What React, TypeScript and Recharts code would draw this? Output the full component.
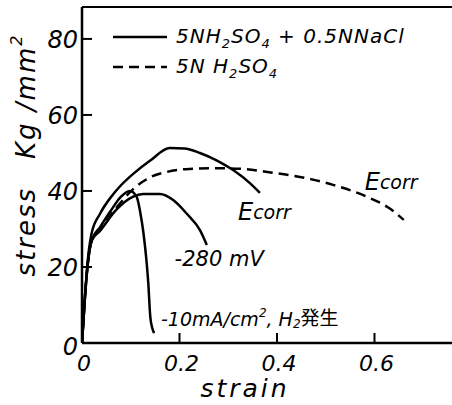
import React from 'react';
import { LineChart, Line, XAxis, YAxis, ReferenceLine, ReferenceDot } from 'recharts';

// strain / stress (kg/mm2)
const naclEcorr = [
  { x: 0, y: 0 }, { x: 0.006, y: 12 }, { x: 0.012, y: 22 }, { x: 0.02, y: 29 },
  { x: 0.037, y: 34 }, { x: 0.06, y: 38.5 }, { x: 0.08, y: 41.5 }, { x: 0.105, y: 44.5 },
  { x: 0.14, y: 48 }, { x: 0.18, y: 51.3 }, { x: 0.21, y: 51.2 }, { x: 0.242, y: 50 },
  { x: 0.277, y: 48 }, { x: 0.31, y: 45.5 }, { x: 0.345, y: 42 }, { x: 0.365, y: 39.5 },
];

const h2so4Ecorr = [
  { x: 0, y: 0 }, { x: 0.006, y: 12 }, { x: 0.012, y: 21 }, { x: 0.02, y: 27 },
  { x: 0.037, y: 30 }, { x: 0.07, y: 35.5 }, { x: 0.105, y: 40.5 }, { x: 0.14, y: 43.6 },
  { x: 0.174, y: 45 }, { x: 0.22, y: 45.8 }, { x: 0.277, y: 46 }, { x: 0.33, y: 45.8 },
  { x: 0.38, y: 45 }, { x: 0.447, y: 43.7 }, { x: 0.515, y: 41.6 }, { x: 0.584, y: 38.5 },
  { x: 0.63, y: 35.5 }, { x: 0.66, y: 32.4 },
];

const nacl280 = [
  { x: 0, y: 0 }, { x: 0.006, y: 12 }, { x: 0.012, y: 21 }, { x: 0.02, y: 27 },
  { x: 0.037, y: 29.5 }, { x: 0.07, y: 35 }, { x: 0.105, y: 38.5 }, { x: 0.125, y: 39.2 },
  { x: 0.16, y: 39.2 }, { x: 0.187, y: 37.6 }, { x: 0.215, y: 34 }, { x: 0.242, y: 29.7 },
  { x: 0.256, y: 25.8 },
];

const naclCathodic = [
  { x: 0, y: 0 }, { x: 0.006, y: 12 }, { x: 0.012, y: 21 }, { x: 0.02, y: 27 },
  { x: 0.037, y: 30.5 }, { x: 0.06, y: 35 }, { x: 0.08, y: 38.5 }, { x: 0.098, y: 40 },
  { x: 0.112, y: 38.5 }, { x: 0.12, y: 34 }, { x: 0.126, y: 29 }, { x: 0.132, y: 22 },
  { x: 0.136, y: 15.7 }, { x: 0.14, y: 7 }, { x: 0.144, y: 4 }, { x: 0.148, y: 2.6 },
];

const xTicks = [0, 0.2, 0.4, 0.6];
const yTicks = [0, 20, 40, 60, 80];
const xMax = 0.759;
const yMax = 88.4;

const font = '"DejaVu Sans", sans-serif';

function XTick({ x, y, payload }: any) {
  return (
    <g>
      <line x1={x} y1={y} x2={x} y2={y - 10} stroke="#000" strokeWidth={2} />
      <text x={x + 2} y={y + 28} textAnchor="middle" fontFamily={font} fontStyle="italic" fontSize={22}>
        {payload.value}
      </text>
    </g>
  );
}

function YTick({ x, y, payload }: any) {
  return (
    <g>
      <line x1={x} y1={y} x2={x + 10} y2={y} stroke="#000" strokeWidth={2} />
      <text x={x - 4} y={payload.value === 0 ? y + 12 : y + 9} textAnchor="end" fontFamily={font} fontStyle="italic" fontSize={24}>
        {payload.value}
      </text>
    </g>
  );
}

function note(parts: React.ReactNode) {
  return ({ cx, cy }: any) => (
    <text x={cx} y={cy} fontFamily={font} fontStyle="italic" fontSize={19} dominantBaseline="middle">
      {parts}
    </text>
  );
}

function XLabel({ viewBox }: any) {
  return (
    <text x={245} y={viewBox.y + 54} textAnchor="middle" fontFamily={font} fontStyle="italic" fontSize={25} letterSpacing={3}>
      strain
    </text>
  );
}

function YLabel({ viewBox }: any) {
  const x = viewBox.x + 27;
  const y = 155;
  return (
    <text x={x} y={y} transform={`rotate(-90 ${x} ${y})`} textAnchor="middle" dominantBaseline="middle"
      fontFamily={font} fontStyle="italic" fontSize={26} letterSpacing={2}>
      stress{'\u2003'}Kg /mm<tspan dy={-10} fontSize={16}>2</tspan>
    </text>
  );
}

function LegendRow({ dashed, children }: { dashed?: boolean; children: React.ReactNode }) {
  return (
    <div style={{ display: 'flex', alignItems: 'center', height: 30 }}>
      <svg width={66} height={10}>
        <line x1={3} y1={5} x2={57} y2={5} stroke="#000" strokeWidth={2.5} strokeDasharray={dashed ? '10 6' : undefined} />
      </svg>
      <span style={{ fontFamily: font, fontStyle: 'italic', fontSize: 20, letterSpacing: 1 }}>{children}</span>
    </div>
  );
}

export default function App() {
  return (
    <div style={{ position: 'relative', width: 452, height: 405, background: '#fff' }}>
      <style>{'body{margin:0}'}</style>
      <LineChart width={452} height={405} margin={{ top: 7, right: 0, bottom: 0, left: 0 }}>
        <XAxis
          type="number"
          dataKey="x"
          height={62}
          domain={[0, xMax]}
          ticks={xTicks}
          tick={<XTick />}
          tickSize={0}
          tickMargin={0}
          tickLine={false}
          axisLine={{ stroke: '#000', strokeWidth: 2.5 }}
          allowDataOverflow
          label={{ content: <XLabel /> }}
        />
        <YAxis
          type="number"
          dataKey="y"
          width={82}
          domain={[0, yMax]}
          ticks={yTicks}
          tick={<YTick />}
          tickSize={0}
          tickMargin={0}
          tickLine={false}
          axisLine={{ stroke: '#000', strokeWidth: 2.5 }}
          allowDataOverflow
          label={{ content: <YLabel /> }}
        />
        <ReferenceLine y={yMax} stroke="#000" strokeWidth={2} />
        <Line data={naclEcorr} dataKey="y" type="monotone" stroke="#000" strokeWidth={2.5} dot={false} isAnimationActive={false} />
        <Line data={h2so4Ecorr} dataKey="y" type="monotone" stroke="#000" strokeWidth={2.5} strokeDasharray="10 6" dot={false} isAnimationActive={false} />
        <Line data={nacl280} dataKey="y" type="monotone" stroke="#000" strokeWidth={2.5} dot={false} isAnimationActive={false} />
        <Line data={naclCathodic} dataKey="y" type="monotone" stroke="#000" strokeWidth={2.5} dot={false} isAnimationActive={false} />
        <ReferenceDot x={0.32} y={34.2} r={0} shape={note(<><tspan fontSize={24}>E</tspan><tspan>corr</tspan></>)} />
        <ReferenceDot x={0.58} y={42} r={0} shape={note(<><tspan fontSize={24}>E</tspan><tspan>corr</tspan></>)} />
        <ReferenceDot x={0.19} y={21.8} r={0} shape={note(<tspan fontSize={21}>-280 mV</tspan>)} />
        <ReferenceDot
          x={0.162}
          y={6}
          r={0}
          shape={note(
            <>
              <tspan>-10mA/cm</tspan>
              <tspan dy={-7} fontSize={12}>2</tspan>
              <tspan dy={7}>, H</tspan>
              <tspan dy={4} fontSize={12}>2</tspan>
              <tspan dy={-4} fontFamily='"Noto Sans CJK JP", sans-serif' fontStyle="normal">発生</tspan>
            </>
          )}
        />
      </LineChart>
      <div style={{ position: 'absolute', left: 110, top: 22 }}>
        <LegendRow>
          5NH<sub style={{ fontSize: 13 }}>2</sub>SO<sub style={{ fontSize: 13 }}>4</sub> + 0.5NNaCl
        </LegendRow>
        <LegendRow dashed>
          5N H<sub style={{ fontSize: 13 }}>2</sub>SO<sub style={{ fontSize: 13 }}>4</sub>
        </LegendRow>
      </div>
    </div>
  );
}
